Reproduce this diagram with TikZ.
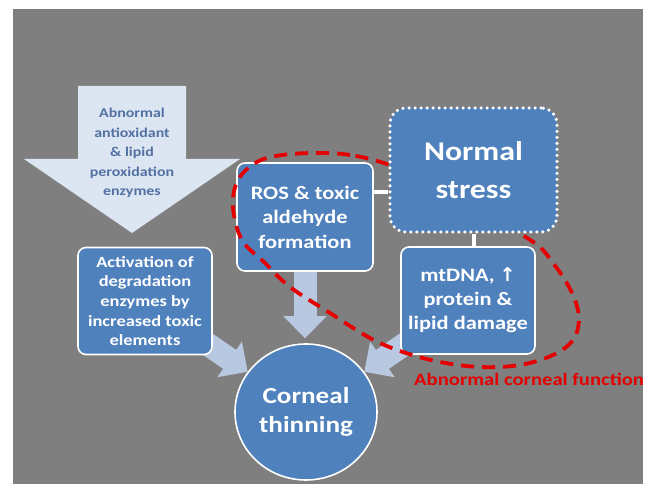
\documentclass[tikz,border=0pt]{standalone}
\usepackage{fontspec}
\setmainfont{Carlito}[FakeStretch=1.18]
\newfontfamily\arrowfont{DejaVu Sans}
\usepackage{tikz}
\usetikzlibrary{shapes.geometric, arrows.meta}
\definecolor{slide}{RGB}{127,127,127}
\definecolor{boxblue}{RGB}{79,129,189}
\definecolor{paleblue}{RGB}{220,230,242}
\definecolor{fatblue}{RGB}{185,200,225}
\definecolor{inkblue}{RGB}{84,113,163}
\definecolor{alarm}{RGB}{228,0,0}
\pgfdeclarelayer{back}
\pgfdeclarelayer{fat}
\pgfdeclarelayer{front}
\pgfsetlayers{back,fat,main,front}
\tikzstyle{box} = [rectangle, rounded corners=8pt, minimum width=134pt, minimum height=107pt, inner sep=0pt, align=center, text=white, draw=white, line width=1.6pt, fill=boxblue, font=\bfseries\fontsize{19}{24.5}\selectfont]
\tikzstyle{stressbox} = [rectangle, rounded corners=16pt, minimum width=167pt, minimum height=124pt, inner sep=0pt, align=center, text=white, draw=white, line width=3.5pt, line cap=round, dash pattern=on 0pt off 6pt, fill=boxblue, font=\bfseries\fontsize{27}{38}\selectfont]
\tikzstyle{disc} = [ellipse, minimum width=142pt, minimum height=136pt, inner sep=0pt, align=center, text=white, draw=white, line width=1.6pt, fill=boxblue, font=\bfseries\fontsize{23}{29}\selectfont]
\tikzstyle{link} = [white, line width=4pt]
\tikzstyle{fatarrow} = [fatblue, line width=23pt, -{Triangle[length=22pt, width=42pt]}]
\tikzstyle{ring} = [alarm, line width=3.8pt, dash pattern=on 13pt off 8pt]

\begin{document}
\begin{tikzpicture}[x=1pt, y=-1pt]

\useasboundingbox (0,0) rectangle (649,484);
\begin{pgfonlayer}{back}
\fill [white] (0,0) rectangle (649,484);
\fill [slide] (13,9) rectangle (643,484);
\end{pgfonlayer}

\fill [paleblue] (78,86) -- (186,86) -- (186,159) -- (240,159) -- (132,233) -- (24,159) -- (78,159) -- cycle;
\node (abn) [align=center, text=inkblue, font=\bfseries\fontsize{13.5}{19.5}\selectfont] at (132,153) {Abnormal\\antioxidant\\\& lipid\\peroxidation\\enzymes};

\node (ros) [box, minimum width=136pt, minimum height=108pt] at (305,217) {ROS \& toxic\\aldehyde\\formation};
\node (act) [box, font=\bfseries\fontsize{15.6}{19.7}\selectfont] at (145,301) {Activation of\\degradation\\enzymes by\\increased toxic\\elements};
\node (mt) [box, font=\bfseries\fontsize{19}{24}\selectfont] at (468,300.5) {mtDNA, {\arrowfont\bfseries ↑}\\protein \&\\lipid damage};
\node (corneal) [disc] at (306,412) {Corneal\\thinning};

\begin{pgfonlayer}{front}
\node (ns) [stressbox] at (473.5,170) {Normal\\stress};
\end{pgfonlayer}

\draw [link] ([yshift=25pt]ros.east) -- ([yshift=25pt]ros.east -| ns.west);
\draw [link] (ns.south) -- (ns.south |- mt.north);

\begin{pgfonlayer}{fat}
\draw [fatarrow, shorten >=5pt] (ros.center) -- (ros.center |- corneal.north);
\draw [fatarrow] (act.center) -- (corneal);
\draw [fatarrow] (mt.center) -- (corneal);
\end{pgfonlayer}

\draw [ring] plot [smooth cycle, tension=0.6] coordinates {(390,165) (350,155) (317,153) (282,155) (257,162) (238,180) (233,207) (242,240) (265,263) (290,287) (330,313) (370,338) (403,352) (440,362) (480,367) (520,365) (553,355) (573,340) (579,320) (575,300) (565,280) (553,263) (540,247) (520,233) (470,195)};

\node (afn) [anchor=west, inner sep=0pt, text=alarm, font=\bfseries\fontsize{17.5}{20}\selectfont] at (414,379) {Abnormal corneal function};

\end{tikzpicture}
\end{document}
